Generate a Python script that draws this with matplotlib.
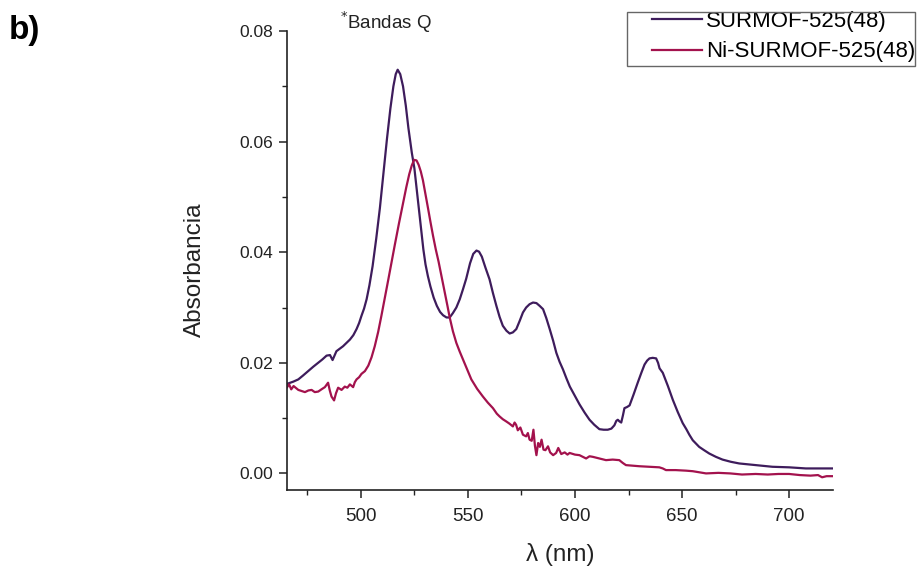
import matplotlib
matplotlib.use("Agg")
import matplotlib.pyplot as plt
from matplotlib.ticker import MultipleLocator, FormatStrFormatter
from matplotlib.patches import Rectangle

plt.rcParams['font.family'] = ['Liberation Sans', 'DejaVu Sans']

# SURMOF-525(48)
wl_a = [465.6, 468.5, 470.8, 473.0, 475.4, 477.8, 480.1, 482.0, 484.0, 485.6,
        486.8, 488.6, 490.0, 491.7, 493.3, 494.9, 496.5, 498.0, 499.2, 500.3,
        501.5, 502.7, 504.0, 505.5, 507.2, 508.9, 510.5, 512.2, 513.8, 515.2,
        516.3, 517.2, 518.4, 519.7, 521.0, 522.2, 523.8, 525.0, 526.2, 527.2,
        528.3, 529.2, 530.2, 531.3, 532.5, 534.0, 535.5, 537.0, 538.4, 540.0,
        541.5, 543.0, 544.6, 546.2, 547.7, 549.2, 551.0, 552.5, 554.0, 555.2,
        556.5, 558.2, 560.1, 561.7, 563.3, 564.8, 566.3, 568.0, 569.5, 571.0,
        572.6, 574.2, 575.7, 577.2, 578.8, 580.4, 582.0, 583.5, 585.1, 586.6,
        588.2, 589.8, 591.3, 592.8, 594.4, 596.0, 597.6, 600.0, 602.1, 604.5,
        606.8, 609.0, 611.4, 613.4, 615.3, 617.0, 618.4, 619.3, 620.0, 620.8,
        621.6, 622.4, 623.1, 624.3, 625.5, 627.4, 629.3, 631.0, 632.5, 633.7,
        634.8, 636.3, 637.9, 638.8, 639.5, 641.0, 643.4, 645.7, 648.0, 650.3,
        652.0, 653.4, 655.0, 656.5, 658.0, 660.3, 662.7, 665.8, 668.9, 672.8,
        676.7, 684.4, 692.2, 700.0, 707.8, 714.0, 720.2]
abs_a = [0.0162, 0.0166, 0.0170, 0.0177, 0.0185, 0.0193, 0.0200, 0.0206, 0.0213, 0.0214,
         0.0205, 0.0221, 0.0225, 0.0230, 0.0236, 0.0242, 0.0250, 0.0261, 0.0272, 0.0285,
         0.0298, 0.0315, 0.0340, 0.0375, 0.0425, 0.0480, 0.0540, 0.0605, 0.0660, 0.0700,
         0.0722, 0.0730, 0.0722, 0.0700, 0.0665, 0.0625, 0.0580, 0.0552, 0.0510, 0.0475,
         0.0435, 0.0405, 0.0378, 0.0357, 0.0338, 0.0318, 0.0303, 0.0292, 0.0286, 0.0282,
         0.0282, 0.0290, 0.0300, 0.0315, 0.0333, 0.0352, 0.0380, 0.0397, 0.0403, 0.0401,
         0.0392, 0.0372, 0.0351, 0.0326, 0.0303, 0.0283, 0.0267, 0.0258, 0.0253, 0.0255,
         0.0261, 0.0276, 0.0291, 0.0300, 0.0306, 0.0309, 0.0308, 0.0303, 0.0297, 0.0281,
         0.0261, 0.0240, 0.0218, 0.0202, 0.0188, 0.0172, 0.0157, 0.0140, 0.0125, 0.0110,
         0.0097, 0.0088, 0.0080, 0.0079, 0.0079, 0.0081, 0.0087, 0.0095, 0.0097, 0.0094,
         0.0092, 0.0105, 0.0118, 0.0120, 0.0123, 0.0143, 0.0164, 0.0182, 0.0197, 0.0204,
         0.0208, 0.0209, 0.0208, 0.0200, 0.0190, 0.0182, 0.0158, 0.0133, 0.0111, 0.0091,
         0.0080, 0.0070, 0.0060, 0.0054, 0.0048, 0.0042, 0.0036, 0.0030, 0.0025, 0.0021,
         0.0018, 0.0015, 0.0012, 0.0011, 0.0009, 0.0009, 0.0009]

# Ni-SURMOF-525(48)
wl_b = [465.6, 466.5, 467.5, 468.6, 470.8, 472.3, 473.9, 475.5, 477.0, 478.5,
        480.1, 481.6, 483.2, 484.7, 485.5, 486.3, 487.5, 488.4, 489.4, 491.0,
        492.5, 493.7, 494.9, 496.4, 497.2, 498.0, 499.2, 500.3, 501.9, 503.5,
        505.0, 506.5, 508.1, 509.6, 511.2, 512.8, 514.4, 515.9, 517.8, 519.7,
        521.2, 522.6, 523.8, 524.9, 526.0, 527.0, 528.0, 529.0, 530.2, 531.4,
        532.5, 533.7, 535.0, 536.3, 537.4, 538.4, 539.5, 540.5, 541.5, 543.0,
        544.6, 546.2, 547.7, 549.6, 551.6, 554.3, 557.0, 559.3, 561.7, 563.5,
        564.8, 566.3, 567.9, 569.4, 571.0, 571.8, 572.5, 573.3, 574.5, 575.7,
        577.2, 578.0, 578.8, 579.8, 580.6, 581.3, 582.0, 582.8, 583.6, 584.4,
        585.3, 586.2, 587.4, 588.4, 589.8, 591.2, 592.2, 593.6, 595.2, 596.5,
        597.5, 600.0, 602.1, 603.6, 605.2, 606.8, 608.3, 611.4, 614.5, 617.6,
        620.7, 622.3, 623.8, 627.0, 630.0, 634.7, 639.4, 641.0, 642.5, 647.0,
        651.8, 655.0, 658.0, 661.2, 667.0, 672.5, 678.0, 684.4, 690.0, 695.0,
        700.0, 705.0, 710.0, 713.5, 715.4, 717.5, 720.2]
abs_b = [0.0156, 0.0161, 0.0152, 0.0158, 0.0151, 0.0149, 0.0147, 0.0150, 0.0151, 0.0147,
         0.0148, 0.0152, 0.0156, 0.0164, 0.0150, 0.0139, 0.0132, 0.0145, 0.0155, 0.0151,
         0.0157, 0.0155, 0.0161, 0.0156, 0.0165, 0.0170, 0.0174, 0.0180, 0.0185, 0.0195,
         0.0210, 0.0230, 0.0256, 0.0285, 0.0317, 0.0350, 0.0383, 0.0414, 0.0452, 0.0488,
         0.0517, 0.0541, 0.0557, 0.0567, 0.0566, 0.0558, 0.0546, 0.0530, 0.0505, 0.0479,
         0.0455, 0.0430, 0.0405, 0.0383, 0.0362, 0.0343, 0.0322, 0.0302, 0.0282, 0.0257,
         0.0236, 0.0220, 0.0206, 0.0188, 0.0170, 0.0153, 0.0139, 0.0128, 0.0118, 0.0108,
         0.0103, 0.0098, 0.0094, 0.0090, 0.0085, 0.0092, 0.0088, 0.0078, 0.0083, 0.0070,
         0.0067, 0.0073, 0.0061, 0.0059, 0.0079, 0.0050, 0.0033, 0.0055, 0.0048, 0.0061,
         0.0043, 0.0042, 0.0049, 0.0038, 0.0033, 0.0037, 0.0046, 0.0035, 0.0038, 0.0034,
         0.0037, 0.0034, 0.0033, 0.0030, 0.0027, 0.0031, 0.0030, 0.0027, 0.0024, 0.0025,
         0.0024, 0.0019, 0.0015, 0.0014, 0.0013, 0.0012, 0.0011, 0.0009, 0.0006, 0.0006,
         0.0005, 0.0004, 0.0002, 0.0000, 0.0001, 0.0000, -0.0002, -0.0001, -0.0002, -0.0001,
         -0.0001, -0.0003, -0.0004, -0.0003, -0.0007, -0.0005, -0.0005]

labels = ["SURMOF-525(48)", "Ni-SURMOF-525(48)"]
colors = ["#3e1c5c", "#a3124d"]

fig = plt.figure(figsize=(9.23, 5.67), dpi=100)
ax = fig.add_axes([0.3109, 0.1358, 0.5916, 0.8095])

ax.plot(wl_a, abs_a, color=colors[0], lw=1.6, label=labels[0])
ax.plot(wl_b, abs_b, color=colors[1], lw=1.6, label=labels[1])

ax.set_xlim(465.5, 720.5)
ax.set_ylim(-0.0030, 0.080)
ax.xaxis.set_major_locator(MultipleLocator(50))
ax.xaxis.set_minor_locator(MultipleLocator(25))
ax.yaxis.set_major_locator(MultipleLocator(0.02))
ax.yaxis.set_minor_locator(MultipleLocator(0.01))
ax.yaxis.set_major_formatter(FormatStrFormatter('%.2f'))

for s in ['top', 'right']:
    ax.spines[s].set_visible(False)
for s in ['left', 'bottom']:
    ax.spines[s].set_linewidth(1.2)
    ax.spines[s].set_color('#222222')

ax.tick_params(axis='both', which='major', direction='out', length=6, width=1.1, colors='#222222')
ax.tick_params(axis='both', which='minor', direction='out', length=3.5, width=1.0, colors='#222222')
ax.tick_params(axis='x', labelsize=13.5, pad=7)
ax.tick_params(axis='y', labelsize=12.5, pad=4)

ax.set_xlabel("λ (nm)", fontsize=17.5, color='#222222')
ax.xaxis.set_label_coords(0.5, -0.116)
ax.set_ylabel("Absorbancia", fontsize=17.5, color='#222222')
ax.yaxis.set_label_coords(-0.148, 0.48)

fig.text(340/923, 1 - 22/567, r"$^{*}$Bandas Q", fontsize=13.5, va='center', ha='left', color='#222222')
fig.text(9/923, 1 - 31/567, "b)", fontsize=24, fontweight='bold', va='center', ha='left')

leg = ax.legend(loc='upper left', bbox_to_anchor=(652/923, 1 - 11/567),
                bbox_transform=fig.transFigure, fontsize=16, frameon=False,
                handlelength=2.25, handletextpad=0.18, borderpad=0.0, labelspacing=0.42,
                borderaxespad=0)
fig.patches.append(Rectangle((627/923, 1 - 66/567), 288/923, 54.5/567,
                             transform=fig.transFigure, fill=False,
                             edgecolor='#666666', lw=1.0))

fig.savefig("out.png", dpi=100)
